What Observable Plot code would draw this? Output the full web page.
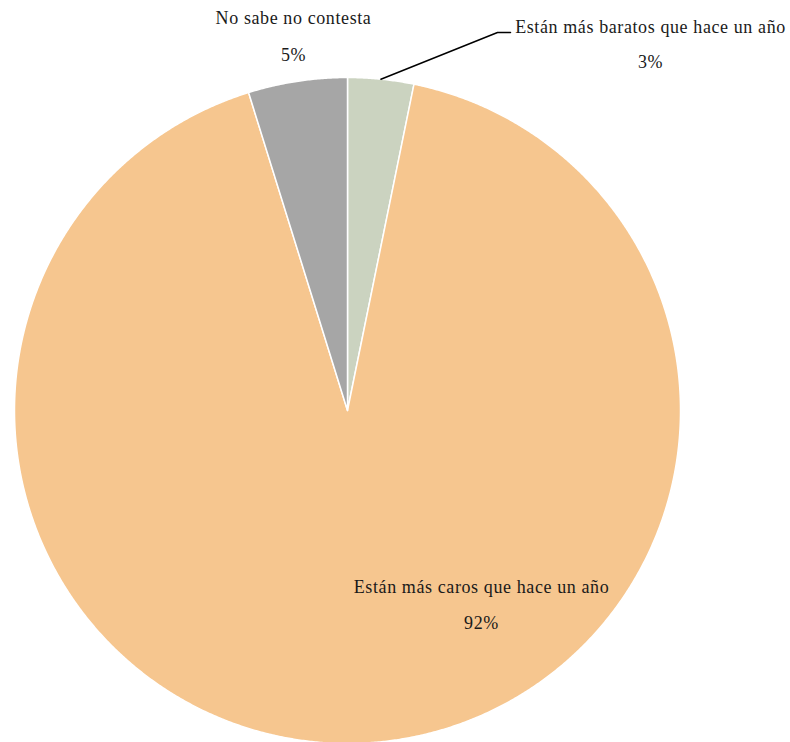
<!DOCTYPE html>
<html><head><meta charset="utf-8">
<script src="https://cdn.jsdelivr.net/npm/d3@7"></script>
<script src="https://cdn.jsdelivr.net/npm/@observablehq/plot@0.6"></script>
<style>body{margin:0;background:#fff}</style>
</head><body><div id="chart"></div>
<script>
const categories = ["Están más baratos que hace un año", "Están más caros que hace un año", "No sabe no contesta"];
const values = [3.2, 92.0, 4.8];
const pctLabels = ["3%", "92%", "5%"];
const colors = ["#cbd3c0", "#f6c68f", "#a6a6a6"];

const W = 790, H = 742, cx = 347, cy = 410, R = 333;
const total = d3.sum(values);
let acc = 0;
const slices = categories.map((c, i) => {
  const a0 = acc / total * 2 * Math.PI;
  acc += values[i];
  const a1 = acc / total * 2 * Math.PI;
  return {cat: c, a0, a1, mid: (a0 + a1) / 2, pct: pctLabels[i]};
});
const pts = [];
for (const s of slices) {
  pts.push({cat: s.cat, x: 0, y: 0});
  const n = Math.max(4, Math.ceil((s.a1 - s.a0) / 0.005));
  for (let k = 0; k <= n; k++) {
    const a = s.a0 + (s.a1 - s.a0) * k / n;
    pts.push({cat: s.cat, x: Math.sin(a), y: Math.cos(a)});
  }
  pts.push({cat: s.cat, x: 0, y: 0});
}
const u = (px, py) => ({x: (px - cx) / R, y: (cy - py) / R});
const labelPos = [u(650, 27), u(481, 587), u(293, 18)];
const pctPos = [u(650, 62), u(481, 623), u(293, 55)];
const labels = slices.map((s, i) => ({text: s.cat, ...labelPos[i]}));
const pcts = slices.map((s, i) => ({text: s.pct, ...pctPos[i]}));
const b = slices[0];
const leader = [
  {x: Math.sin(b.mid), y: Math.cos(b.mid)},
  u(497, 32),
  u(510, 32)
];

const chart = Plot.plot({
  width: W, height: H,
  margin: 0,
  x: {domain: [-cx / R, (W - cx) / R], range: [0, W], axis: null},
  y: {domain: [-(H - cy) / R, cy / R], range: [H, 0], axis: null},
  color: {domain: categories, range: colors},
  style: {fontFamily: "Liberation Serif, serif", background: "#fff"},
  marks: [
    Plot.line(pts, {x: "x", y: "y", z: "cat", fill: "cat", stroke: "#fff", strokeWidth: 1.5, curve: "linear"}),
    Plot.line(leader, {x: "x", y: "y", stroke: "#000", strokeWidth: 1.5}),
    Plot.text(labels, {x: "x", y: "y", text: "text", fontSize: 18, fill: "#1a1a1a", style: "letter-spacing:0.6px"}),
    Plot.text(pcts, {x: "x", y: "y", text: "text", fontSize: 18, fill: "#1a1a1a", style: "letter-spacing:0.6px"})
  ]
});
chart.querySelectorAll("text").forEach(t => t.style.letterSpacing = "0.6px");
document.getElementById("chart").appendChild(chart);
</script></body></html>
